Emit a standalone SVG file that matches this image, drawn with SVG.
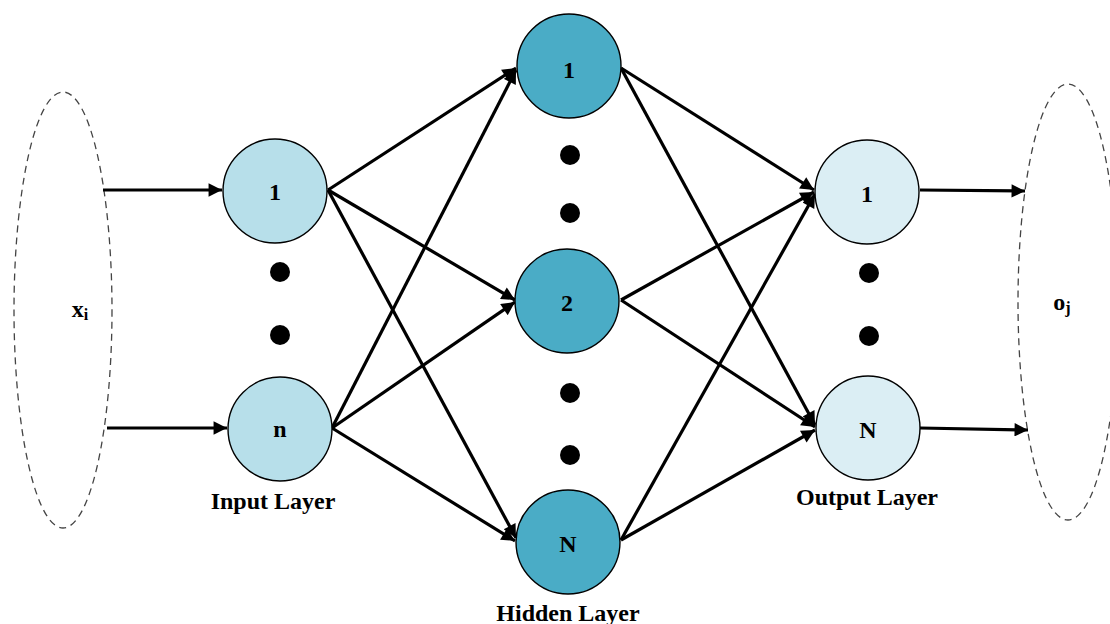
<svg xmlns="http://www.w3.org/2000/svg" width="1110" height="624" viewBox="0 0 1110 624">
<style>
.edge{stroke:#000;stroke-width:3.2;fill:none;marker-end:url(#ah)}
.node{stroke:#000;stroke-width:1.4}
.in{fill:#b7dfea}
.hid{fill:#4aacc6}
.out{fill:#dbeef4}
text{font-family:'Liberation Serif','Times New Roman','DejaVu Serif',serif;font-weight:bold;text-anchor:middle;fill:#000}
.lbl{font-size:24px}
.cap{font-size:24px}
.dot{fill:#000}
.set{fill:none;stroke:#444;stroke-width:1.3;stroke-dasharray:7 5}
</style>
<defs>
<marker id="ah" viewBox="0 0 10 10" refX="10" refY="5" markerWidth="5" markerHeight="4.2" markerUnits="strokeWidth" orient="auto">
<path d="M0,0 L10,5 L0,10 z" fill="#000"/>
</marker>
</defs>
<rect width="1110" height="624" fill="#fff"/>
<g id="input-set">
<ellipse class="set" cx="63" cy="310" rx="49" ry="218"/>
<text class="cap" x="80" y="317">x<tspan font-size="16" dy="3">i</tspan></text>
</g>
<g id="output-set">
<ellipse class="set" cx="1068" cy="302" rx="50" ry="218"/>
<text class="cap" x="1062" y="310">o<tspan font-size="16" dy="3">j</tspan></text>
</g>
<g id="connectors">
<line class="edge" x1="103" y1="190" x2="222" y2="190"/>
<line class="edge" x1="107" y1="428" x2="227" y2="428"/>
<line class="edge" x1="328" y1="190" x2="516" y2="68"/>
<line class="edge" x1="328" y1="190" x2="515" y2="300"/>
<line class="edge" x1="328" y1="190" x2="516" y2="538"/>
<line class="edge" x1="332" y1="428" x2="516" y2="70"/>
<line class="edge" x1="332" y1="428" x2="515" y2="302"/>
<line class="edge" x1="332" y1="428" x2="515" y2="541"/>
<line class="edge" x1="621" y1="68" x2="814" y2="190"/>
<line class="edge" x1="621" y1="68" x2="815" y2="425"/>
<line class="edge" x1="621" y1="300" x2="814" y2="192"/>
<line class="edge" x1="621" y1="300" x2="815" y2="427"/>
<line class="edge" x1="621" y1="540" x2="815" y2="194"/>
<line class="edge" x1="621" y1="540" x2="815" y2="430"/>
<line class="edge" x1="920" y1="190" x2="1025" y2="191"/>
<line class="edge" x1="920" y1="428" x2="1028" y2="430"/>
</g>
<g id="input-1"><circle class="node in" cx="275" cy="191" r="52"/><text class="lbl" x="275" y="200">1</text></g>
<g id="input-dots"><circle class="dot" cx="280" cy="272" r="10"/><circle class="dot" cx="280" cy="335" r="10"/></g>
<g id="input-n"><circle class="node in" cx="280" cy="429" r="52"/><text class="lbl" x="280" y="437">n</text></g>
<g id="hidden-1"><circle class="node hid" cx="569" cy="66" r="52"/><text class="lbl" x="569" y="78">1</text></g>
<g id="hidden-dots-a"><circle class="dot" cx="570" cy="155" r="10"/><circle class="dot" cx="570" cy="213" r="10"/></g>
<g id="hidden-2"><circle class="node hid" cx="567" cy="301" r="52"/><text class="lbl" x="567" y="311">2</text></g>
<g id="hidden-dots-b"><circle class="dot" cx="570" cy="393" r="10"/><circle class="dot" cx="570" cy="455" r="10"/></g>
<g id="hidden-N"><circle class="node hid" cx="568" cy="542" r="52"/><text class="lbl" x="568" y="552">N</text></g>
<g id="output-1"><circle class="node out" cx="867" cy="192" r="52"/><text class="lbl" x="867" y="202">1</text></g>
<g id="output-dots"><circle class="dot" cx="869" cy="273" r="10"/><circle class="dot" cx="869" cy="336" r="10"/></g>
<g id="output-N"><circle class="node out" cx="868" cy="428" r="52"/><text class="lbl" x="868" y="438">N</text></g>
<g id="labels">
<text class="cap" x="273" y="509">Input Layer</text>
<text class="cap" x="568" y="621">Hidden Layer</text>
<text class="cap" x="867" y="505">Output Layer</text>
</g>
</svg>
